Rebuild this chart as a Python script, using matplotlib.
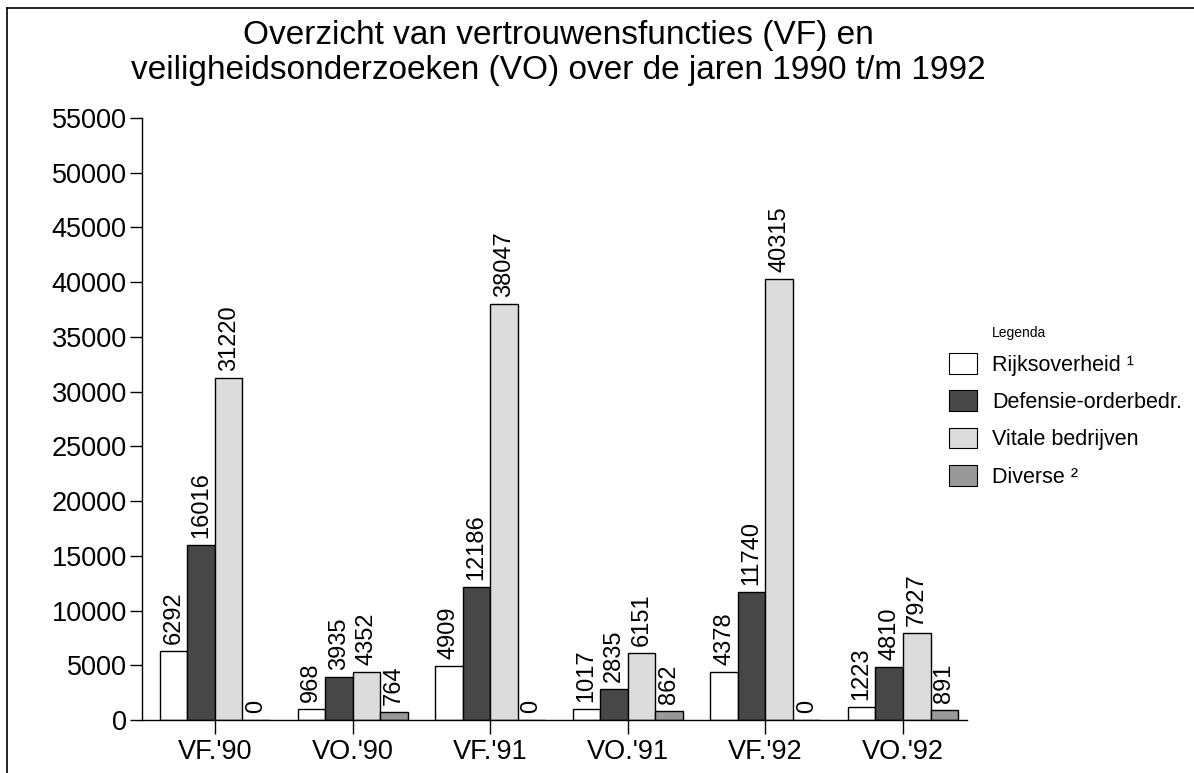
import matplotlib.pyplot as plt
import numpy as np
from matplotlib.lines import Line2D
from matplotlib.patches import Patch

plt.rcParams['font.family'] = ['Liberation Sans', 'DejaVu Sans']

groups = ["VF.'90", "VO.'90", "VF.'91", "VO.'91", "VF.'92", "VO.'92"]
series = ["Rijksoverheid ¹", "Defensie-orderbedr.", "Vitale bedrijven", "Diverse ²"]
rijksoverheid = [6292, 968, 4909, 1017, 4378, 1223]
defensie = [16016, 3935, 12186, 2835, 11740, 4810]
vitale = [31220, 4352, 38047, 6151, 40315, 7927]
diverse = [0, 764, 0, 862, 0, 891]
yticks = list(range(0, 55001, 5000))

colors = ["white", "#474747", "#dcdcdc", "#999999"]

fig = plt.figure(figsize=(11.94, 7.73), dpi=100)
ax = fig.add_axes([142/1194, 1-720/773, 825/1194, 602/773])

x = np.arange(len(groups))
w = 0.2
for i, (vals, c) in enumerate(zip([rijksoverheid, defensie, vitale, diverse], colors)):
    pos = x + (i - 1.5) * w
    ax.bar(pos, vals, w, color=c, edgecolor="black", linewidth=1.0)
    for px, v in zip(pos, vals):
        ax.annotate(str(v), (px, v), xytext=(0, 5), textcoords="offset points",
                    rotation=90, ha="center", va="bottom", fontsize=17)

ax.set_xlim(-0.53, 5.465)
ax.set_ylim(0, 55000)
ax.set_yticks(yticks)
ax.set_yticklabels([str(t) for t in yticks], fontsize=19.5)
ax.set_xticks(x)
ax.set_xticklabels(groups, fontsize=19.5)
ax.tick_params(axis="y", length=9, width=1, pad=2)
ax.tick_params(axis="x", length=10, width=1, pad=4)
for s in ["top", "right"]:
    ax.spines[s].set_visible(False)
for s in ["left", "bottom"]:
    ax.spines[s].set_linewidth(1.0)

fig.text(558/1194, 1-53/773, "Overzicht van vertrouwensfuncties (VF) en\n"
         "veiligheidsonderzoeken (VO) over de jaren 1990 t/m 1992",
         ha="center", va="center", fontsize=24, linespacing=1.15)

handles = [Patch(facecolor=c, edgecolor="black", linewidth=0.8) for c in colors]
fig.text(992/1194, 1-333/773, "Legenda", fontsize=10, va="center", ha="left")
fig.legend(handles, series, loc="upper left", bbox_to_anchor=(949/1194, 1-353/773),
           frameon=False, fontsize=15.5, handlelength=1.3, handleheight=1.1,
           handletextpad=0.7, labelspacing=0.68, borderaxespad=0, borderpad=0)

# border of the scanned page
fig.add_artist(Line2D([7/1194, 7/1194], [0, 1-8/773], transform=fig.transFigure, color="black", lw=1.2))
fig.add_artist(Line2D([7/1194, 1], [1-8/773, 1-8/773], transform=fig.transFigure, color="black", lw=1.2))

fig.savefig("out.png", dpi=100)
